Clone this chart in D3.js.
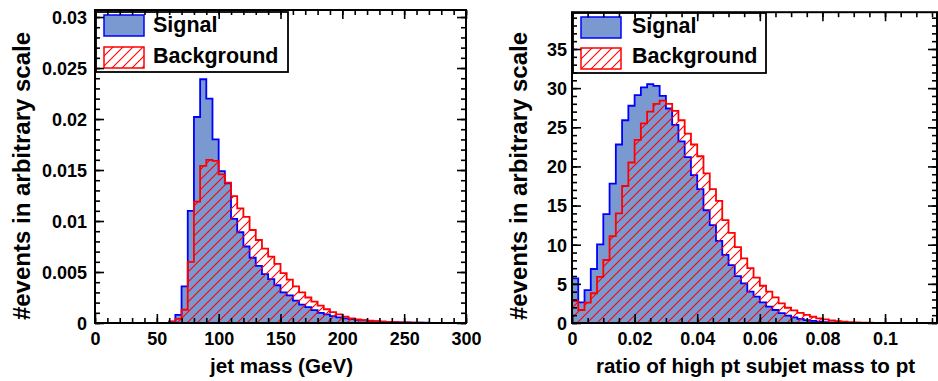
<!DOCTYPE html>
<html>
<head>
<meta charset="utf-8">
<script src="https://cdn.jsdelivr.net/npm/d3@7"></script>
<style>
  body { margin: 0; background: #ffffff; }
  svg { display: block; font-family: "Liberation Sans", Arial, Helvetica, sans-serif; font-weight: bold; }
</style>
</head>
<body>
<svg id="chart" width="938" height="381"></svg>
<script>
// ---- Jet mass distribution, 5 GeV bins starting at 0 GeV ----
const massBinStart = 0;
const massBinWidth = 5;
const massSignal = [
  0, 0, 0, 0, 0, 0, 0, 0, 0, 0, 0, 0,
  0.00015, 0.0008, 0.0036, 0.0110, 0.0202, 0.0239, 0.0220, 0.0180, 0.0149, 0.0137,
  0.0102, 0.0089, 0.0075, 0.0064, 0.0056, 0.0048, 0.0043, 0.0037, 0.0030, 0.0027,
  0.0022, 0.0018, 0.00155, 0.00126, 0.0010, 0.00085, 0.00068, 0.00055, 0.00045, 0.00038,
  0.0003, 0.00025, 0.0002, 0.00016, 0.00013, 0.0001, 0.00008, 0.00006, 0.00005, 0.00004,
  0.00003, 0.00003, 0.00002, 0.00002, 0.00001, 0.00001, 0.00001, 0.00001
];
const massBackground = [
  0, 0, 0, 0, 0, 0, 0, 0, 0, 0, 0, 0,
  0.0001, 0.0004, 0.0013, 0.0060, 0.0119, 0.0154, 0.0160, 0.0159, 0.01458, 0.01376,
  0.01245, 0.01124, 0.0104, 0.00912, 0.00814, 0.0073, 0.0065, 0.0058, 0.0049, 0.00425,
  0.0036, 0.0030, 0.0025, 0.0021, 0.0017, 0.00135, 0.00106, 0.00085, 0.00062, 0.00046,
  0.00036, 0.00028, 0.00022, 0.00017, 0.00013, 0.0001, 0.00008, 0.00006, 0.00005, 0.00004,
  0.00003, 0.00002, 0.00002, 0.00001, 0.00001, 0.00001, 0.00001, 0.00001
];
const massXTicks = [0, 50, 100, 150, 200, 250, 300];
const massXMinor = d3.range(0, 301, 10);
const massYTicks = [0, 0.005, 0.01, 0.015, 0.02, 0.025, 0.03];
const massYTickLabels = ["0", "0.005", "0.01", "0.015", "0.02", "0.025", "0.03"];
const massYMinor = d3.range(0, 31).map(i => i * 0.001);

// ---- Subjet mass / pt ratio, 0.002 bins starting at 0 ----
const ratioBinStart = 0;
const ratioBinWidth = 0.002;
const ratioSignal = [
  5.7, 2.64, 4.2, 6.9, 10.05, 13.9, 17.8, 22.8, 25.9, 27.75,
  29.1, 30.1, 30.5, 30.3, 29.0, 27.4, 25.3, 23.2, 21.2, 18.9,
  17.1, 14.4, 12.5, 10.5, 8.7, 7.4, 6.0, 5.07, 4.0, 3.36,
  2.64, 2.08, 1.66, 1.25, 0.95, 0.72, 0.52, 0.38, 0.27, 0.18,
  0.12, 0.08, 0.05, 0.03, 0.02, 0.01, 0, 0, 0, 0,
  0, 0, 0, 0, 0, 0, 0, 0
];
const ratioBackground = [
  2.8, 1.66, 2.6, 3.8, 5.9, 8.05, 11.1, 14.0, 17.5, 20.5,
  23.4, 25.5, 27.0, 28.0, 28.4, 28.0, 27.1, 25.9, 24.2, 22.8,
  21.3, 19.1, 17.1, 15.6, 13.15, 11.5, 9.7, 8.26, 7.0, 5.8,
  4.76, 4.0, 3.28, 2.5, 1.95, 1.6, 1.3, 1.05, 0.8, 0.6,
  0.46, 0.34, 0.24, 0.17, 0.12, 0.08, 0.05, 0.03, 0.02, 0.01,
  0, 0, 0, 0, 0, 0, 0, 0
];
const ratioXTicks = [0, 0.02, 0.04, 0.06, 0.08, 0.1];
const ratioXTickLabels = ["0", "0.02", "0.04", "0.06", "0.08", "0.1"];
const ratioXMinor = d3.range(0, 24).map(i => i * 0.005);
const ratioYTicks = [0, 5, 10, 15, 20, 25, 30, 35];
const ratioYMinor = d3.range(0, 40);

const legendLabels = ["Signal", "Background"];
const yTitle = "#events in arbitrary scale";

// ---- Styling ----
const signalFill = "#7a99d0";
const signalLine = "#0000ff";
const backgroundLine = "#ff0000";

const svg = d3.select("#chart");
const defs = svg.append("defs");
const hatch = defs.append("pattern")
  .attr("id", "hatch")
  .attr("patternUnits", "userSpaceOnUse")
  .attr("width", 10).attr("height", 10);
hatch.append("path")
  .attr("d", "M-5,5 L5,-5 M0,10 L10,0 M5,15 L15,5")
  .attr("stroke", backgroundLine)
  .attr("stroke-width", 1.1)
  .attr("fill", "none");

function stepPoints(start, width, values, x, y) {
  const pts = [[x(start), y(0)]];
  values.forEach((v, i) => {
    pts.push([x(start + i * width), y(v)]);
    pts.push([x(start + (i + 1) * width), y(v)]);
  });
  pts.push([x(start + values.length * width), y(0)]);
  return pts;
}

function drawPanel(cfg) {
  const g = svg.append("g");
  const x = d3.scaleLinear().domain(cfg.xDomain).range([cfg.left, cfg.right]);
  const y = d3.scaleLinear().domain(cfg.yDomain).range([cfg.bottom, cfg.top]);

  const clipId = "clip-" + cfg.id;
  defs.append("clipPath").attr("id", clipId)
    .append("rect")
    .attr("x", cfg.left).attr("y", cfg.top)
    .attr("width", cfg.right - cfg.left).attr("height", cfg.bottom - cfg.top);

  const line = d3.line();
  const plot = g.append("g").attr("clip-path", `url(#${clipId})`);

  const sigPts = stepPoints(cfg.binStart, cfg.binWidth, cfg.signal, x, y);
  const bkgPts = stepPoints(cfg.binStart, cfg.binWidth, cfg.background, x, y);

  plot.append("path").attr("d", line(sigPts) + "Z")
    .attr("fill", signalFill).attr("stroke", "none");
  plot.append("path").attr("d", line(sigPts))
    .attr("fill", "none").attr("stroke", signalLine).attr("stroke-width", 1.8);
  plot.append("path").attr("d", line(bkgPts) + "Z")
    .attr("fill", "url(#hatch)").attr("stroke", "none");
  plot.append("path").attr("d", line(bkgPts))
    .attr("fill", "none").attr("stroke", backgroundLine).attr("stroke-width", 1.8);

  // Legend
  const lg = g.append("g");
  lg.append("rect")
    .attr("x", cfg.legend.x0).attr("y", cfg.legend.y0)
    .attr("width", cfg.legend.x1 - cfg.legend.x0).attr("height", cfg.legend.y1 - cfg.legend.y0)
    .attr("fill", "#ffffff").attr("stroke", "#000000").attr("stroke-width", 1.8);
  lg.append("rect")
    .attr("x", cfg.legend.sx).attr("y", cfg.legend.sy[0])
    .attr("width", 40).attr("height", 21)
    .attr("fill", signalFill).attr("stroke", signalLine).attr("stroke-width", 1.5);
  lg.append("rect")
    .attr("x", cfg.legend.sx).attr("y", cfg.legend.sy[1])
    .attr("width", 40).attr("height", 21)
    .attr("fill", "url(#hatch)").attr("stroke", backgroundLine).attr("stroke-width", 1.5);
  legendLabels.forEach((t, i) => {
    lg.append("text")
      .attr("x", cfg.legend.tx).attr("y", cfg.legend.ty[i])
      .attr("font-size", 21.5).attr("fill", "#000")
      .text(t);
  });

  // Axes: major ticks with labels, minor ticks without, mirrored on the opposite sides
  const major = 9, minor = 5;
  function styleAxis(sel) {
    sel.select(".domain").remove();
    sel.selectAll("line").attr("stroke", "#000").attr("stroke-width", 1.6);
  }
  const bx = g.append("g").attr("transform", `translate(0,${cfg.bottom})`)
    .call(d3.axisBottom(x).tickValues(cfg.xTicks).tickSize(-major)
      .tickFormat((d, i) => cfg.xLabels[i]));
  styleAxis(bx);
  bx.selectAll("text").attr("y", 22).attr("dy", null)
    .attr("font-size", 18).attr("font-family", null).attr("fill", "#000");
  styleAxis(g.append("g").attr("transform", `translate(0,${cfg.bottom})`)
    .call(d3.axisBottom(x).tickValues(cfg.xMinor).tickSize(-minor).tickFormat("")));
  styleAxis(g.append("g").attr("transform", `translate(0,${cfg.top})`)
    .call(d3.axisTop(x).tickValues(cfg.xTicks).tickSize(-major).tickFormat("")));
  styleAxis(g.append("g").attr("transform", `translate(0,${cfg.top})`)
    .call(d3.axisTop(x).tickValues(cfg.xMinor).tickSize(-minor).tickFormat("")));

  const ly = g.append("g").attr("transform", `translate(${cfg.left},0)`)
    .call(d3.axisLeft(y).tickValues(cfg.yTicks).tickSize(-major)
      .tickFormat((d, i) => cfg.yLabels[i]));
  styleAxis(ly);
  ly.selectAll("text").attr("x", -cfg.yLabelGap).attr("dy", "0.35em")
    .attr("font-size", 18).attr("font-family", null).attr("fill", "#000");
  styleAxis(g.append("g").attr("transform", `translate(${cfg.left},0)`)
    .call(d3.axisLeft(y).tickValues(cfg.yMinor).tickSize(-minor).tickFormat("")));
  styleAxis(g.append("g").attr("transform", `translate(${cfg.right},0)`)
    .call(d3.axisRight(y).tickValues(cfg.yTicks).tickSize(-major).tickFormat("")));
  styleAxis(g.append("g").attr("transform", `translate(${cfg.right},0)`)
    .call(d3.axisRight(y).tickValues(cfg.yMinor).tickSize(-minor).tickFormat("")));

  // Frame
  g.append("rect")
    .attr("x", cfg.left).attr("y", cfg.top)
    .attr("width", cfg.right - cfg.left).attr("height", cfg.bottom - cfg.top)
    .attr("fill", "none").attr("stroke", "#000").attr("stroke-width", 2);

  // Titles
  g.append("text")
    .attr("x", (cfg.left + cfg.right) / 2 + 1).attr("y", 373)
    .attr("text-anchor", "middle").attr("font-size", 20.6).attr("fill", "#000")
    .text(cfg.xTitle);
  g.append("text")
    .attr("transform", `translate(${cfg.yTitleX},${cfg.yTitleY}) rotate(-90)`)
    .attr("text-anchor", "middle").attr("font-size", 24).attr("fill", "#000")
    .text(yTitle);
}

drawPanel({
  id: "mass",
  left: 95, right: 466, top: 10, bottom: 323,
  xDomain: [0, 300], yDomain: [0, 0.03069],
  binStart: massBinStart, binWidth: massBinWidth,
  signal: massSignal, background: massBackground,
  xTicks: massXTicks, xLabels: massXTicks.map(String), xMinor: massXMinor,
  yTicks: massYTicks, yLabels: massYTickLabels, yMinor: massYMinor,
  yLabelGap: 8,
  xTitle: "jet mass (GeV)",
  yTitleX: 30, yTitleY: 176,
  legend: { x0: 96, x1: 288, y0: 12, y1: 72, sx: 104, sy: [15, 47], tx: 153, ty: [32, 63] }
});

drawPanel({
  id: "ratio",
  left: 572, right: 937, top: 12.2, bottom: 323,
  xDomain: [0, 0.1166], yDomain: [0, 39.7],
  binStart: ratioBinStart, binWidth: ratioBinWidth,
  signal: ratioSignal, background: ratioBackground,
  xTicks: ratioXTicks, xLabels: ratioXTickLabels, xMinor: ratioXMinor,
  yTicks: ratioYTicks, yLabels: ratioYTicks.map(String), yMinor: ratioYMinor,
  yLabelGap: 5,
  xTitle: "ratio of high pt subjet mass to pt",
  yTitleX: 527, yTitleY: 176,
  legend: { x0: 573, x1: 766, y0: 13, y1: 73, sx: 581, sy: [17, 48], tx: 632, ty: [33, 63] }
});
</script>
</body>
</html>
